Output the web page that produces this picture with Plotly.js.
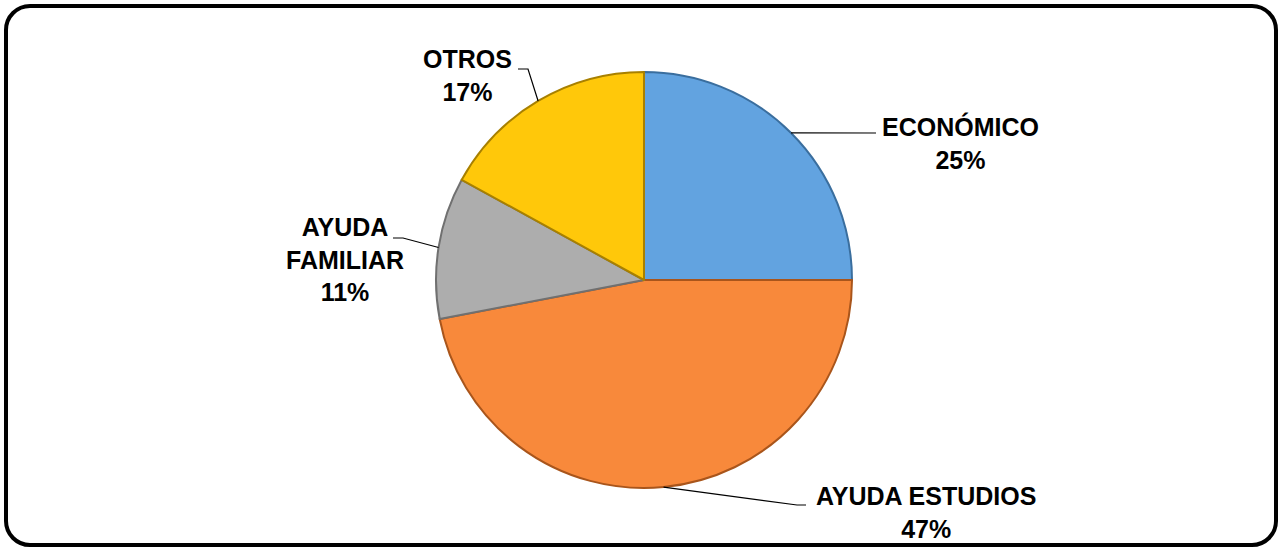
<!DOCTYPE html>
<html>
<head>
<meta charset="utf-8">
<script src="https://cdn.plot.ly/plotly-3.0.1.min.js"></script>
<style>
  html, body { margin: 0; padding: 0; background: #ffffff; }
  #wrap { position: relative; width: 1282px; height: 550px; }
  #chart { width: 1282px; height: 550px; }
  #frame { position: absolute; left: 4px; top: 4px; width: 1266px; height: 535px;
           border: 4px solid #000; border-radius: 26px; pointer-events: none; }
</style>
</head>
<body>
<div id="wrap">
  <div id="chart"></div>
  <div id="frame"></div>
</div>
<script>
// ---- data ----
const categories = ['ECONÓMICO', 'AYUDA ESTUDIOS', 'AYUDA FAMILIAR', 'OTROS'];
const values = [25, 47, 11, 17];
const labelLines = ['ECONÓMICO', 'AYUDA ESTUDIOS', 'AYUDA<br>FAMILIAR', 'OTROS'];
const colors = ['#62A3E0', '#F8893B', '#ADADAD', '#FFC80A'];
const edgeColors = ['#3A6E9E', '#A9551B', '#707070', '#A88000'];

// ---- layout constants (pixels) ----
const W = 1282, H = 550;
const CX = 644, CY = 280, R = 208;
// label centres and leader elbow / end points
const labelPos = [
  { x: 960, y: 143, elbow: [876, 133], end: [876, 133] },
  { x: 926, y: 512, elbow: [797, 505], end: [806, 505] },
  { x: 345, y: 259, elbow: [403, 238], end: [393, 238] },
  { x: 467, y: 75,  elbow: [528, 69],  end: [518, 69] }
];

const px = x => x / W;
const py = y => 1 - y / H;

const total = values.reduce((a, b) => a + b, 0);

const pie = {
  type: 'pie',
  labels: categories,
  values: values,
  sort: false,
  direction: 'clockwise',
  rotation: 0,
  textinfo: 'none',
  hoverinfo: 'label+percent',
  marker: { colors: colors, line: { color: edgeColors, width: 2 } },
  domain: { x: [px(CX - R), px(CX + R)], y: [py(CY + R), py(CY - R)] },
  showlegend: false
};

const annotations = [];
const shapes = [];
let cum = 0;
values.forEach((v, i) => {
  const a = (cum + v / 2) / total * 2 * Math.PI;
  cum += v;
  const ex = CX + R * Math.sin(a);
  const ey = CY - R * Math.cos(a);
  const L = labelPos[i];
  const pct = Math.round(v / total * 100) + '%';
  annotations.push({
    xref: 'paper', yref: 'paper',
    x: px(L.x), y: py(L.y),
    xanchor: 'center', yanchor: 'middle',
    align: 'center', showarrow: false,
    text: '<b>' + labelLines[i] + '<br>' + pct + '</b>',
    font: { family: 'Liberation Sans, Arial, sans-serif', size: 25, color: '#000000' }
  });
  shapes.push({
    type: 'path', xref: 'paper', yref: 'paper',
    path: 'M ' + px(ex) + ' ' + py(ey) +
          ' L ' + px(L.elbow[0]) + ' ' + py(L.elbow[1]) +
          ' L ' + px(L.end[0]) + ' ' + py(L.end[1]),
    line: { color: '#000000', width: 1.2 }
  });
});

const layout = {
  width: W, height: H,
  margin: { l: 0, r: 0, t: 0, b: 0 },
  paper_bgcolor: '#ffffff',
  plot_bgcolor: '#ffffff',
  annotations: annotations,
  shapes: shapes,
  showlegend: false
};

Plotly.newPlot('chart', [pie], layout, { displayModeBar: false, staticPlot: true });
</script>
</body>
</html>
